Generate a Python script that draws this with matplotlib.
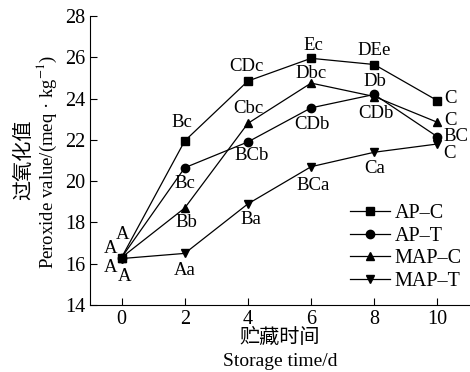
import numpy as np
import matplotlib
matplotlib.use("Agg")
import matplotlib.pyplot as plt

plt.rcParams['font.family'] = ['Liberation Serif', 'Noto Sans CJK SC']
plt.rcParams['mathtext.fontset'] = 'stix'

days = [0, 2, 4, 6, 8, 10]

ap_c = [16.3, 21.95, 24.85, 25.95, 25.65, 23.9]
ap_t = [16.3, 20.65, 21.9, 23.55, 24.2, 22.15]
map_c = [16.3, 18.7, 22.8, 24.75, 24.1, 22.85]
map_t = [16.25, 16.5, 18.9, 20.7, 21.4, 21.8]

series_names = ['AP–C', 'AP–T', 'MAP–C', 'MAP–T']

# significance letters
lab_ap_c = ['A', 'Bc', 'CDc', 'Ec', 'DEe', 'C']
lab_ap_t = ['A', 'Bc', 'BCb', 'CDb', 'Db', 'BC']
lab_map_c = ['A', 'Bb', 'Cbc', 'Dbc', 'CDb', 'C']
lab_map_t = ['A', 'Aa', 'Ba', 'BCa', 'Ca', 'C']

# label offsets in pixels (dx, dy)
off_ap_c = [(1, 23), (-3, 18), (-1, 15), (2, 13), (0, 14), (13, 2)]
off_ap_t = [(-11, 9), (0, -16), (4, -14), (1, -17), (1, 13), (19, 0)]
off_map_c = [(-11, -10), (2, -15), (0, 15), (0, 10), (2, -17), (13, 2)]
off_map_t = [(3, -18), (0, -17), (3, -16), (2, -19), (0, -16), (12, -10)]

fig = plt.figure(figsize=(4.7, 3.72), dpi=100)
ax = fig.add_axes([90 / 470, 67 / 372, 379 / 470, 289 / 372])

styles = [('s', ap_c, lab_ap_c, off_ap_c),
          ('o', ap_t, lab_ap_t, off_ap_t),
          ('^', map_c, lab_map_c, off_map_c),
          ('v', map_t, lab_map_t, off_map_t)]

for name, (mk, vals, labs, offs) in zip(series_names, styles):
    ax.plot(days, vals, marker=mk, color='black', lw=0.9, ms=6, label=name)
    for x, y, t, (dx, dy) in zip(days, vals, labs, offs):
        ax.annotate(t, (x, y), xytext=(dx, dy), textcoords='offset pixels',
                    ha='center', va='center', fontsize=13.5)

ax.set_xlim(-1, 11)
ax.set_ylim(14, 28)
ax.set_xticks(days)
ax.set_yticks(np.arange(14, 29, 2))
ax.tick_params(direction='in', length=5, width=0.8, labelsize=14.5)
ax.spines['top'].set_visible(False)
ax.spines['right'].set_visible(False)
for s in ['left', 'bottom']:
    ax.spines[s].set_linewidth(0.8)

fig.text(25 / 470, 1 - 160 / 372, '过氧化值', rotation=90, ha='center', va='center', fontsize=14.5)
fig.text(47 / 470, 1 - 162 / 372, 'Peroxide value/(meq · kg$^{-1}$)', rotation=90,
         ha='center', va='center', fontsize=13.5)
fig.text(280 / 470, 1 - 338 / 372, '贮藏时间', ha='center', va='center', fontsize=14.5)
fig.text(280 / 470, 1 - 361 / 372, 'Storage time/d', ha='center', va='center', fontsize=14)

ax.legend(loc='upper left', bbox_to_anchor=(350 / 470, 1 - 204 / 372), bbox_transform=fig.transFigure,
          frameon=False, fontsize=14.5, borderpad=0, borderaxespad=0, handlelength=2.0,
          handletextpad=0.2, labelspacing=0.17)

fig.savefig('out.png', dpi=100)
